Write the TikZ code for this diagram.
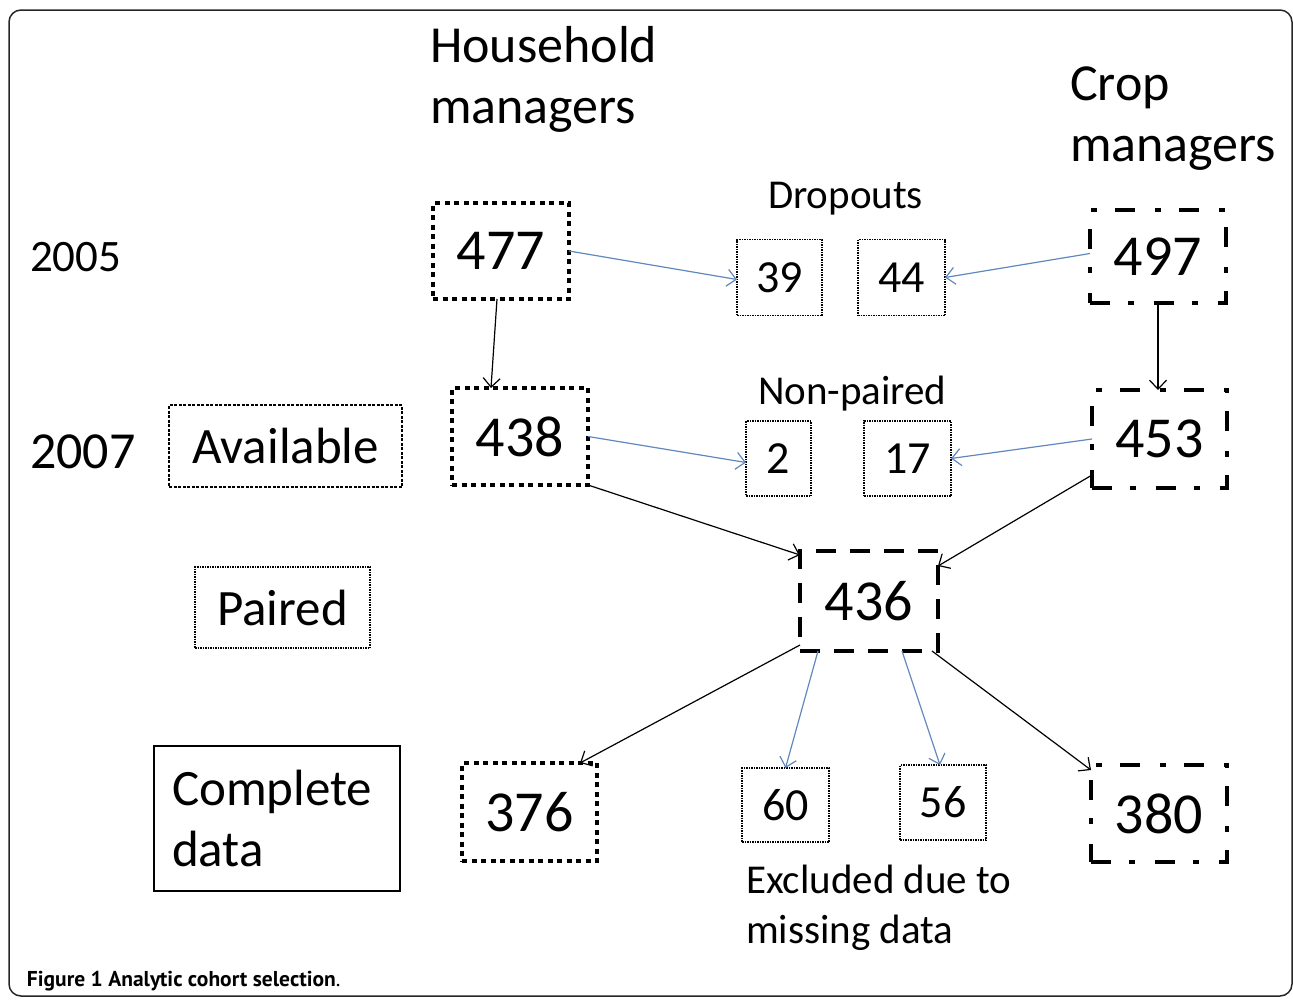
\documentclass[tikz,border=0pt]{standalone}
\usepackage{fontspec}
\setmainfont{Carlito}
\newfontfamily\capfont{PT Sans}
\usepackage{tikz}
\usetikzlibrary{arrows.meta}
\definecolor{arrowblue}{RGB}{96,136,190}

\begin{document}
\begin{tikzpicture}[x=1pt,y=-1pt,inner sep=0pt,outer sep=0pt]
\tikzstyle{hhbox}=[draw,line width=4,dash pattern=on 5 off 4.5,minimum width=136,minimum height=96,font=\fontsize{58}{58}\selectfont];
\tikzstyle{cmbox}=[draw,line width=4,dash pattern=on 20 off 18 on 6 off 20,minimum width=136,minimum height=96,font=\fontsize{58}{58}\selectfont];
\tikzstyle{pairbox}=[draw,line width=4,dash pattern=on 20 off 14,minimum width=138,minimum height=100,font=\fontsize{58}{58}\selectfont];
\tikzstyle{numbox}=[draw,line width=1.3,dash pattern=on 1.5 off 1,minimum height=76,font=\fontsize{46}{46}\selectfont];
\tikzstyle{rowbox}=[draw,line width=1.3,font=\fontsize{51}{61}\selectfont];
\tikzstyle{lbl}=[anchor=base west,align=left,font=\fontsize{52}{61}\selectfont];
\tikzstyle{note}=[anchor=base west,align=left,font=\fontsize{41}{50}\selectfont];
\tikzstyle{arrow}=[-{Straight Barb[length=9,width=17]},line width=1.2];
\tikzstyle{bluearrow}=[arrow,arrowblue];
\useasboundingbox (0,0) rectangle (1293,999);
\draw[rounded corners=12,line width=1.5,black!85] (9,10) rectangle (1292,996);
% column heads and years (base = last line)
\node (hhhead) [lbl] at (430,123) {Household\\managers};
\node (cmhead) [lbl] at (1070,161) {Crop\\managers};
\node (y2005) [lbl,font=\fontsize{45}{45}\selectfont] at (30,271) {2005};
\node (y2007) [lbl] at (30,468) {2007};
\node (drophead) [note] at (768,208) {Dropouts};
\node (nphead) [note] at (758,404) {Non-paired};
\node (exhead) [note] at (746,943) {Excluded due to\\missing data};
% row labels
\node (avail) [rowbox,dash pattern=on 3 off 1.5,minimum width=233,minimum height=82] at (285.5,446) {Available};
\node (paired) [rowbox,dash pattern=on 1.5 off 1,minimum width=175,minimum height=81] at (282.5,607.5) {Paired};
\node (complete) [rowbox,line width=2,minimum width=246,minimum height=145,text width=210,align=left] at (277,818.5) {Complete\\data};
% counts
\node (hh05) [hhbox] at (501,251) {477};
\node (cm05) [cmbox,minimum height=93] at (1158,256.5) {497};
\node (drop1) [numbox,minimum width=85] at (779.5,277.5) {39};
\node (drop2) [numbox,minimum width=87] at (901.5,277.5) {44};
\node (hh07) [hhbox,minimum height=97] at (520,436.5) {438};
\node (cm07) [cmbox,minimum width=135,minimum height=98] at (1159.5,439) {453};
\node (np1) [numbox,minimum width=65,minimum height=75] at (778.5,458.5) {2};
\node (np2) [numbox,minimum width=87,minimum height=75] at (907.5,458.5) {17};
\node (pair) [pairbox] at (869,601) {436};
\node (hhfin) [hhbox,minimum width=135,minimum height=98] at (529.5,812) {376};
\node (cmfin) [cmbox,minimum height=97] at (1159,813.5) {380};
\node (ex1) [numbox,minimum width=87,minimum height=74] at (785.5,805) {60};
\node (ex2) [numbox,minimum width=86,minimum height=75] at (943,802.5) {56};
% connectors
\draw [arrow] ([xshift=-4]hh05.south) -- ([xshift=-29]hh07.north);
\draw [bluearrow] (hh05.east) -- ([yshift=-2]drop1.west);
\draw [bluearrow] ([yshift=3]cm05.west) -- (drop2.east);
\draw [arrow] (cm05.south) -- (cm05.south |- cm07.north);
\draw [bluearrow] (hh07.east) -- ([yshift=-4]np1.west);
\draw [bluearrow] (cm07.west) -- (np2.east);
\draw [arrow] (hh07.south east) -- ([yshift=-4]pair.north west);
\draw [arrow] ([yshift=13]cm07.south west) -- ([yshift=-15]pair.north east);
\draw [arrow] ([yshift=6]pair.south west) -- ([xshift=-17]hhfin.north east);
\draw [bluearrow] ([xshift=18]pair.south west) -- (ex1.north);
\draw [bluearrow] ([xshift=33]pair.south) -- ([xshift=-3]ex2.north);
\draw [arrow] ([xshift=-6]pair.south east) -- ([yshift=-5]cmfin.north west);
% caption
\node (caption) [anchor=base west,font=\capfont\fontsize{21.5}{21.5}\selectfont] at (27,986) {\textbf{Figure 1 Analytic cohort selection}.};
\end{tikzpicture}
\end{document}
